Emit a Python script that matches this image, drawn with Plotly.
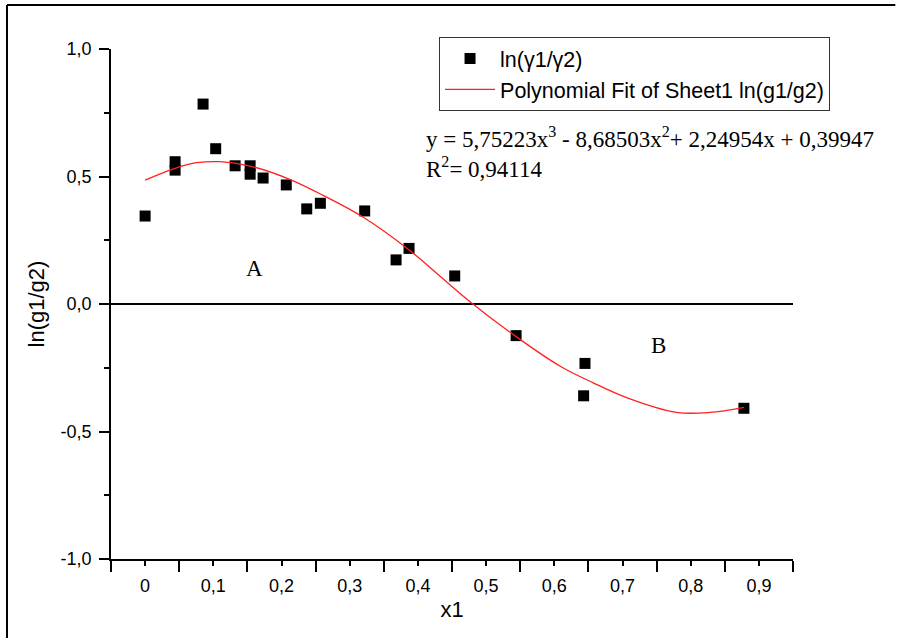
import plotly.graph_objects as go

# Experimental points ln(gamma1/gamma2) vs x1
x1 = [0.0, 0.044, 0.044, 0.085, 0.1035, 0.132, 0.154, 0.154, 0.173, 0.207,
      0.237, 0.257, 0.322, 0.368, 0.387, 0.454, 0.544, 0.645, 0.643, 0.878]
ln_g = [0.345, 0.558, 0.525, 0.784, 0.609, 0.542, 0.542, 0.509, 0.494, 0.467,
        0.373, 0.395, 0.365, 0.173, 0.218, 0.110, -0.124, -0.233, -0.360, -0.409]

# Polynomial fit curve
fit_x = [0.0, 0.044, 0.0757, 0.110, 0.154, 0.212, 0.261, 0.320, 0.388, 0.430,
         0.476, 0.544, 0.608, 0.657, 0.706, 0.779, 0.828, 0.878]
fit_y = [0.486, 0.532, 0.554, 0.558, 0.541, 0.489, 0.426, 0.340, 0.210, 0.115,
         0.010, -0.128, -0.243, -0.309, -0.367, -0.425, -0.425, -0.405]

x_ticks = [0, 0.1, 0.2, 0.3, 0.4, 0.5, 0.6, 0.7, 0.8, 0.9]
x_labels = ["0", "0,1", "0,2", "0,3", "0,4", "0,5", "0,6", "0,7", "0,8", "0,9"]
y_ticks = [-1.0, -0.5, 0.0, 0.5, 1.0]
y_labels = ["-1,0", "-0,5", "0,0", "0,5", "1,0"]

equation = "y = 5,75223x<sup>3</sup> - 8,68503x<sup>2</sup>+ 2,24954x + 0,39947"
r2_text = "R<sup>2</sup>= 0,94114"

SANS = "Arial, Liberation Sans, sans-serif"
SERIF = "Times New Roman, Liberation Serif, serif"

fig = go.Figure()
fig.add_trace(go.Scatter(
    x=x1, y=ln_g, mode="markers", name="ln(γ1/γ2)",
    marker=dict(symbol="square", size=11, color="black"),
))
fig.add_trace(go.Scatter(
    x=fit_x, y=fit_y, mode="lines", name="Polynomial Fit of Sheet1 ln(g1/g2)",
    line=dict(color="#ff2020", width=1.3, shape="spline", smoothing=1.0),
))

fig.update_layout(
    width=899, height=641, autosize=False,
    margin=dict(l=111, r=106, t=49, b=82),
    paper_bgcolor="white", plot_bgcolor="white",
    font=dict(family=SANS, color="black"),
    showlegend=True,
    legend=dict(
        x=0.481, y=1.0235, xanchor="left", yanchor="top",
        bordercolor="#333333", borderwidth=1, bgcolor="white",
        font=dict(family=SANS, size=21.5, color="black"),
        itemwidth=50, tracegroupgap=0,
    ),
    xaxis=dict(
        range=[-0.05, 0.95], showgrid=False, zeroline=False,
        showline=True, linecolor="black", linewidth=1.5,
        tickmode="array", tickvals=x_ticks, ticktext=x_labels,
        ticks="outside", ticklen=5, tickwidth=1.5, tickcolor="black",
        tickfont=dict(family=SANS, size=18, color="black"),
        ticklabelstandoff=5,
        minor=dict(tick0=0.05, dtick=0.1, ticks="outside", ticklen=11,
                   tickwidth=1.5, tickcolor="black"),
        title=dict(text="x1", font=dict(family=SANS, size=22, color="black"), standoff=6),
    ),
    yaxis=dict(
        range=[-1.0, 1.0], showgrid=False,
        zeroline=True, zerolinecolor="black", zerolinewidth=2,
        showline=True, linecolor="black", linewidth=1.5,
        tickmode="array", tickvals=y_ticks, ticktext=y_labels,
        ticks="outside", ticklen=10, tickwidth=1.5, tickcolor="black",
        tickfont=dict(family=SANS, size=18, color="black"),
        ticklabelstandoff=4,
        minor=dict(tick0=0.25, dtick=0.5, ticks="outside", ticklen=5,
                   tickwidth=1.5, tickcolor="black"),
        title=dict(text="ln(g1/g2)", font=dict(family=SANS, size=22, color="black"), standoff=10),
    ),
)

# Equation and R^2 annotations
fig.add_annotation(x=0.459, y=0.827, xref="paper", yref="paper", text=equation,
                   showarrow=False, xanchor="left", yanchor="middle",
                   font=dict(family=SERIF, size=23, color="black"))
fig.add_annotation(x=0.459, y=0.767, xref="paper", yref="paper", text=r2_text,
                   showarrow=False, xanchor="left", yanchor="middle",
                   font=dict(family=SERIF, size=23, color="black"))
# Region labels
fig.add_annotation(x=0.161, y=0.141, xref="x", yref="y", text="A", showarrow=False,
                   font=dict(family=SERIF, size=23, color="black"))
fig.add_annotation(x=0.753, y=-0.161, xref="x", yref="y", text="B", showarrow=False,
                   font=dict(family=SERIF, size=23, color="black"))

# Page frame (top and left edges visible)
fig.add_shape(type="line", xref="paper", yref="paper", x0=-0.1525, y0=1.0863, x1=1.15, y1=1.0863,
              line=dict(color="black", width=2))
fig.add_shape(type="line", xref="paper", yref="paper", x0=-0.1525, y0=1.0863, x1=-0.1525, y1=-0.155,
              line=dict(color="black", width=2))

fig.write_html("out.html")
